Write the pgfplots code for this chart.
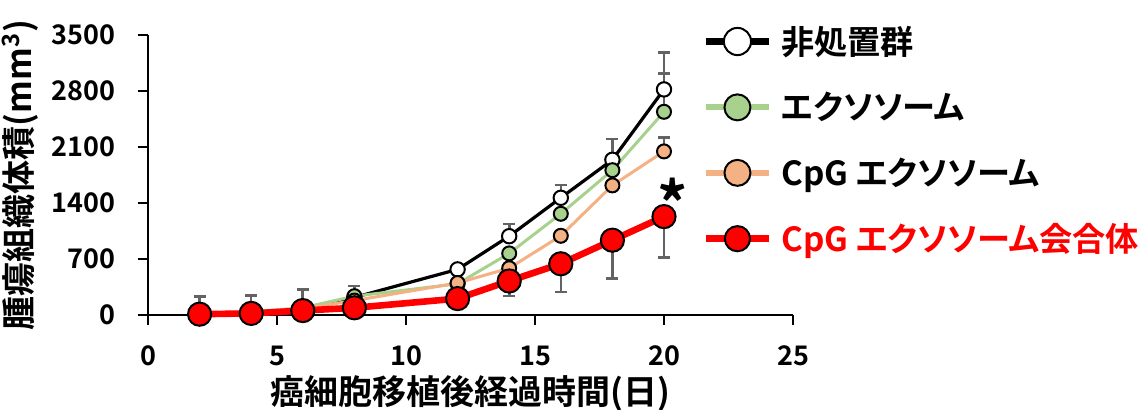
\documentclass[border=0pt]{standalone}
\usepackage{pgfplots}
\pgfplotsset{compat=1.18}
\usepackage{fontspec}
\setmainfont{Noto Sans CJK JP}[BoldFont={Noto Sans CJK JP Bold}, RawFeature=+palt]
\definecolor{cgreen}{HTML}{A9D18E}
\definecolor{corange}{HTML}{F4B183}
\definecolor{cred}{HTML}{FF0000}
\definecolor{cerr}{HTML}{636363}
\begin{document}
\begin{tikzpicture}
\path[use as bounding box] (-74pt,-47.5pt) rectangle (499pt,157.5pt);
\begin{axis}[
  at={(0,0)}, anchor=south west,
  scale only axis, width=322.5pt, height=140pt,
  xmin=0, xmax=25, ymin=0, ymax=3500,
  xtick={0,5,...,25}, ytick={0,700,...,3500},
  axis x line=bottom, axis y line=left,
  axis line style={-, line width=1pt, black},
  tick align=outside, major tick length=5pt,
  tick style={line width=1pt, black},
  clip=false,
  tick label style={font=\fontsize{13.5}{14}\selectfont\bfseries},
  xticklabel style={yshift=-7pt},
  yticklabel style={xshift=-8pt},
  /pgf/number format/assume math mode=true,
  /pgf/number format/1000 sep={},
  xlabel={癌細胞移植後経過時間(日)},
  ylabel={腫瘍組織体積(mm\textsuperscript{3})},
  label style={font=\fontsize{17}{18}\selectfont\bfseries},
  xlabel style={at={(axis description cs:0.5,-0.28)}, anchor=center},
  ylabel style={at={(axis description cs:-0.198,0.5)}, anchor=center},
  legend style={at={(rel axis cs:0.859,1.034)}, anchor=north west,
    draw=none, fill=none, inner sep=0pt, row sep=17.5pt,
    font=\fontsize{16.6}{17}\selectfont\bfseries,
    nodes={inner sep=0pt}},
  legend cell align=left,
]
% non-treated
\addplot[black, line width=1.6pt, mark=*, mark size=3.6pt,
  mark options={fill=white, draw=black, line width=1pt},
  error bars/.cd, y dir=plus, y explicit,
  error bar style={cerr, line width=1.3pt, solid},
  error mark=-, error mark options={cerr, line width=1.3pt, mark size=3pt, solid, rotate=90},
  /pgfplots/legend image code/.code={
    \draw[black, line width=3.5pt] (0pt,0pt) -- (31.5pt,0pt);
    \draw[black, line width=1pt, fill=white] (15.75pt,0pt) circle (6.8pt);
    \path (36pt,0pt);}]
  coordinates {(2,15) +- (0,215) (4,35) +- (0,210) (6,70) +- (0,250) (8,220) +- (0,142)
    (12,570) +- (0,0) (14,985) +- (0,150) (16,1465) +- (0,160) (18,1940) +- (0,262) (20,2820) +- (0,462)};
\addlegendentry{非処置群}
% exosome
\addplot[cgreen, line width=1.5pt, mark=*, mark size=3.5pt,
  mark options={fill=cgreen, draw=black, line width=1pt},
  error bars/.cd, y dir=plus, y explicit,
  error bar style={cerr, line width=1.3pt, solid},
  error mark=-, error mark options={cerr, line width=1.3pt, mark size=3pt, solid, rotate=90},
  /pgfplots/legend image code/.code={
    \draw[cgreen, line width=3pt] (0pt,0pt) -- (31.5pt,0pt);
    \draw[black, line width=1pt, fill=cgreen] (15.75pt,0pt) circle (6.5pt);
    \path (36pt,0pt);}]
  coordinates {(2,20) +- (0,0) (4,40) +- (0,0) (6,90) +- (0,0) (8,235) +- (0,0)
    (12,390) +- (0,0) (14,770) +- (0,0) (16,1265) +- (0,0) (18,1810) +- (0,0) (20,2540) +- (0,475)};
\addlegendentry{エクソソーム}
% CpG exosome
\addplot[corange, line width=1.5pt, mark=*, mark size=3.5pt,
  mark options={fill=corange, draw=black, line width=1pt},
  error bars/.cd, y dir=plus, y explicit,
  error bar style={cerr, line width=1.3pt, solid},
  error mark=-, error mark options={cerr, line width=1.3pt, mark size=3pt, solid, rotate=90},
  /pgfplots/legend image code/.code={
    \draw[corange, line width=3pt] (0pt,0pt) -- (31.5pt,0pt);
    \draw[black, line width=1pt, fill=corange] (15.75pt,0pt) circle (6.5pt);
    \path (36pt,0pt);}]
  coordinates {(2,15) +- (0,0) (4,35) +- (0,0) (6,80) +- (0,0) (8,180) +- (0,0)
    (12,400) +- (0,0) (14,585) +- (0,0) (16,990) +- (0,0) (18,1620) +- (0,0) (20,2045) +- (0,170)};
\addlegendentry{CpG エクソソーム}
% CpG exosome complex
\addplot[cred, line width=3.3pt, mark=*, mark size=5.8pt,
  mark options={fill=cred, draw=black, line width=1pt},
  error bars/.cd, y dir=minus, y explicit,
  error bar style={cerr, line width=1.3pt, solid},
  error mark=-, error mark options={cerr, line width=1.3pt, mark size=3pt, solid, rotate=90},
  /pgfplots/legend image code/.code={
    \draw[cred, line width=3.5pt] (0pt,0pt) -- (31.5pt,0pt);
    \draw[black, line width=1pt, fill=cred] (15.75pt,0pt) circle (6.3pt);
    \path (36pt,0pt);}]
  coordinates {(2,10) +- (0,0) (4,20) +- (0,0) (6,55) +- (0,0) (8,90) +- (0,0)
    (12,205) +- (0,0) (14,425) +- (0,190) (16,640) +- (0,355) (18,935) +- (0,478) (20,1230) +- (0,515)};
\addlegendentry{\textcolor{cred}{CpG エクソソーム会合体}}
\node[font=\fontsize{30}{30}\selectfont\bfseries] at (axis cs:20.35,1410) {*};
\end{axis}
\end{tikzpicture}
\end{document}
